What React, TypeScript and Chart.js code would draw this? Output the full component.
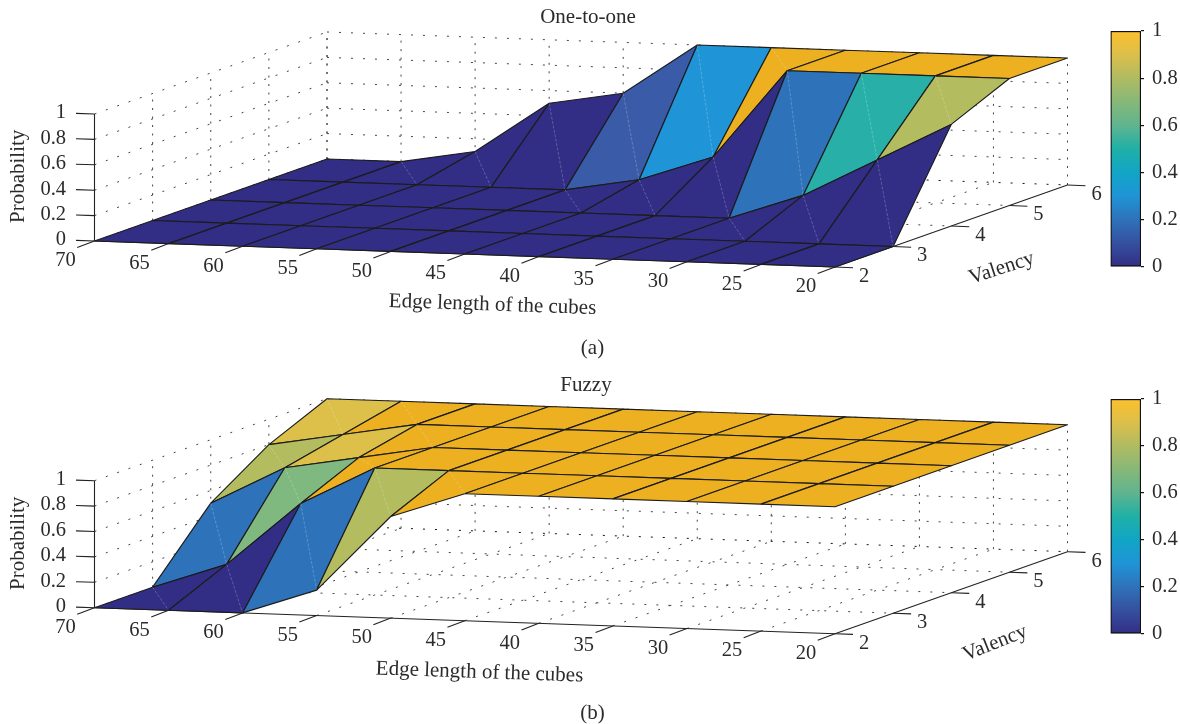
import React, { useEffect, useRef } from "react";
import { Chart, registerables } from "chart.js";

Chart.register(...registerables);

const edgeValues = [70, 65, 60, 55, 50, 45, 40, 35, 30, 25, 20];
const valencyValues = [2, 3, 4, 5, 6];
const probabilityTicks = [0, 0.2, 0.4, 0.6, 0.8, 1];

const oneToOneV2 = [0, 0, 0, 0, 0, 0, 0, 0, 0, 0, 0];
const oneToOneV3 = [0, 0, 0, 0, 0, 0, 0, 0, 0, 0, 0];
const oneToOneV4 = [0, 0, 0, 0, 0, 0, 0, 0, 0.2, 0.5, 0.8];
const oneToOneV5 = [0, 0, 0, 0, 0, 0.1, 0.3, 1, 1, 1, 1];
const oneToOneV6 = [0, 0, 0.1, 0.5, 0.6, 1, 1, 1, 1, 1, 1];

const fuzzyV2 = [0, 0, 0, 0.2, 0.8, 1, 1, 1, 1, 1, 1];
const fuzzyV3 = [0, 0.2, 0.7, 1, 1, 1, 1, 1, 1, 1, 1];
const fuzzyV4 = [0.5, 0.8, 0.9, 1, 1, 1, 1, 1, 1, 1, 1];
const fuzzyV5 = [0.8, 0.9, 1, 1, 1, 1, 1, 1, 1, 1, 1];
const fuzzyV6 = [1, 1, 1, 1, 1, 1, 1, 1, 1, 1, 1];

const faceColors = ["#322d85", "#3a5ba8", "#2e72b9", "#1f94d6", "#11a8c9", "#28b0a8", "#5fb48f", "#80b97f", "#b3bc5f", "#dcc049", "#ecb020"];
const barColors = ["#322d85", "#35509f", "#2e72b9", "#1f94d6", "#11a5c6", "#1fb0a6", "#5fb48f", "#86b878", "#b0bb62", "#dcbf4a", "#fcc02c"];

const FONT = '"Liberation Serif", serif';
const INK = "#2b2b2b";
const W = 1180;
const H = 362;

type Panel = {
  title: string;
  caption: string;
  rows: number[][];
  oy: number;
  titleX: number;
  titleY: number;
  captionY: number;
  edgeLabel: [number, number];
  probY: number;
  valency: [number, number, number];
};

const panels: Panel[] = [
  {
    title: "One-to-one", caption: "(a)",
    rows: [oneToOneV2, oneToOneV3, oneToOneV4, oneToOneV5, oneToOneV6],
    oy: 241, titleX: 588, titleY: 17, captionY: 348, edgeLabel: [492.5, 305], probY: 176.3, valency: [1001.7, 268.3, -18],
  },
  {
    title: "Fuzzy", caption: "(b)",
    rows: [fuzzyV2, fuzzyV3, fuzzyV4, fuzzyV5, fuzzyV6],
    oy: 245.7, titleX: 586, titleY: 23, captionY: 351, edgeLabel: [479.5, 310.5], probY: 181.3, valency: [995, 281.3, -22],
  },
];

const projector = (oy: number) => (edge: number, valency: number, p: number) => {
  const t = (70 - edge) / 50;
  const u = (valency - 2) / 4;
  return { x: 94.5 + t * 740.5 + u * 232.5, y: oy + t * 26 - u * 82 - p * 127 };
};

function buildDatasets(panel: Panel) {
  const P = projector(panel.oy);
  const back: any[] = [];
  const line = (data: any[], color: string, width: number, dash: number[] = []) =>
    back.push({ data, borderColor: color, borderWidth: width, borderDash: dash, fill: false, showLine: true, pointRadius: 0, clip: false, tension: 0 });
  const first = edgeValues[0];
  const last = edgeValues[edgeValues.length - 1];
  const vLast = valencyValues[valencyValues.length - 1];
  const grey = "#444444";
  const dots = [2, 10];

  probabilityTicks.slice(1).forEach((p) => {
    line([P(first, 2, p), P(first, vLast, p)], grey, 1, dots);
    line([P(first, vLast, p), P(last, vLast, p)], grey, 1, dots);
  });
  edgeValues.forEach((e) => {
    line([P(e, vLast, 0), P(e, vLast, 1)], grey, 1, [2, 6.5]);
    if (e !== last) line([P(e, 2, 0), P(e, vLast, 0)], grey, 1, dots);
  });
  valencyValues.forEach((v) => {
    if (v !== 2) {
      line([P(first, v, 0), P(first, v, 1)], grey, 1, [2, 6.5]);
      line([P(first, v, 0), P(last, v, 0)], v === vLast ? "#111111" : grey, 1, dots);
    }
  });

  const axis = "#222222";
  line([P(first, 2, 0), P(first, 2, 1)], axis, 1.1);
  line([P(first, 2, 0), P(last, 2, 0)], axis, 1.1);
  line([P(last, 2, 0), P(last, vLast, 0)], axis, 1.1);
  probabilityTicks.forEach((p) => {
    const a = P(first, 2, p);
    line([a, { x: a.x - 18.5, y: a.y - 0.6 }], axis, 1.1);
  });
  edgeValues.forEach((e) => {
    const a = P(e, 2, 0);
    line([a, { x: a.x - 17.3, y: a.y + 6.6 }], axis, 1.1);
  });
  valencyValues.forEach((v) => {
    const a = P(last, v, 0);
    line([a, { x: a.x + 18, y: a.y + 0.7 }], axis, 1.1);
  });

  for (let j = valencyValues.length - 2; j >= 0; j--) {
    for (let i = 0; i < edgeValues.length - 1; i++) {
      const lowL = panel.rows[j][i];
      const lowR = panel.rows[j][i + 1];
      const upL = panel.rows[j + 1][i];
      const upR = panel.rows[j + 1][i + 1];
      const e0 = edgeValues[i];
      const e1 = edgeValues[i + 1];
      const v0 = valencyValues[j];
      const v1 = valencyValues[j + 1];
      const a = P(e0, v0, lowL);
      const b = P(e1, v0, lowR);
      const c = P(e1, v1, upR);
      const d = P(e0, v1, upL);
      back.push({
        data: [a, b, c, d, a],
        backgroundColor: faceColors[Math.round(lowR * 10)],
        borderColor: "#1c1c1c",
        borderWidth: 1.15,
        borderJoinStyle: "round",
        fill: "shape",
        showLine: true,
        pointRadius: 0,
        clip: false,
        tension: 0,
      });
      if (Math.abs(lowL + upR - lowR - upL) > 1e-6) {
        line([d, b], "rgba(255,255,255,0.32)", 0.7, [3, 1.5]);
      }
    }
  }
  return back.reverse();
}

function textPlugin(panel: Panel) {
  return {
    id: "panelText",
    afterDraw(chart: any) {
      const ctx = chart.ctx;
      const P = projector(panel.oy);
      const px = (x: number) => chart.scales.x.getPixelForValue(x);
      const py = (y: number) => chart.scales.y.getPixelForValue(y);
      const put = (s: string, x: number, y: number, size: number, align: CanvasTextAlign = "center", rot = 0) => {
        ctx.save();
        ctx.translate(px(x), py(y));
        ctx.rotate((rot * Math.PI) / 180);
        ctx.textAlign = align;
        ctx.textBaseline = "middle";
        ctx.fillStyle = INK;
        ctx.font = `${size}px ${FONT}`;
        ctx.fillText(s, 0, 0);
        ctx.restore();
      };
      const last = edgeValues[edgeValues.length - 1];
      put(panel.title, panel.titleX, panel.titleY, 21);
      put(panel.caption, 592.5, panel.captionY, 21);
      edgeValues.forEach((e) => {
        const a = P(e, 2, 0);
        put(String(e), a.x - 29, a.y + 20, 20.5);
      });
      valencyValues.forEach((v) => {
        const a = P(last, v, 0);
        put(String(v), a.x + 29, a.y + 9.5, 20.5);
      });
      probabilityTicks.forEach((p) => {
        const a = P(edgeValues[0], 2, p);
        put(String(p), 66, a.y - 1, 20.5, "right");
      });
      put("Edge length of the cubes", panel.edgeLabel[0], panel.edgeLabel[1], 21, "center", 2);
      put("Probability", 18.7, panel.probY, 21, "center", -90);
      put("Valency", panel.valency[0], panel.valency[1], 21, "center", panel.valency[2]);
    },
  };
}

function Surface({ panel, top }: { panel: Panel; top: number }) {
  const ref = useRef<HTMLCanvasElement>(null);
  useEffect(() => {
    const chart = new Chart(ref.current as HTMLCanvasElement, {
      type: "scatter",
      data: { datasets: buildDatasets(panel) },
      options: {
        animation: false,
        responsive: false,
        devicePixelRatio: 1,
        layout: { padding: 0 },
        events: [],
        scales: {
          x: { type: "linear", min: 0, max: W, display: false },
          y: { type: "linear", min: 0, max: H, reverse: true, display: false },
        },
        plugins: { legend: { display: false }, tooltip: { enabled: false }, filler: { drawTime: "beforeDatasetDraw" } },
      },
      plugins: [textPlugin(panel)],
    } as any);
    return () => chart.destroy();
  }, [panel]);
  return <canvas ref={ref} width={W} height={H} style={{ position: "absolute", left: 0, top, width: W, height: H }} />;
}

function ColorBar({ top, height }: { top: number; height: number }) {
  const ref = useRef<HTMLCanvasElement>(null);
  useEffect(() => {
    const chart = new Chart(ref.current as HTMLCanvasElement, {
      type: "bar",
      data: {
        labels: ["Probability"],
        datasets: [
          {
            data: [[0, 1]],
            backgroundColor: (c: any) => {
              const area = c.chart.chartArea;
              if (!area) return barColors[0];
              const g = c.chart.ctx.createLinearGradient(0, area.bottom, 0, area.top);
              barColors.forEach((col, i) => g.addColorStop(i / (barColors.length - 1), col));
              return g;
            },
            borderColor: "#111111",
            borderWidth: 1.5,
            borderSkipped: false,
            barPercentage: 1,
            categoryPercentage: 1,
          },
        ],
      },
      options: {
        animation: false,
        responsive: false,
        devicePixelRatio: 1,
        events: [],
        layout: { padding: { top: 15, bottom: 15, left: 10.5, right: 0 } },
        scales: {
          x: { display: false },
          y: {
            position: "right",
            min: 0,
            max: 1,
            afterFit: (s: any) => { s.width = 39; s.paddingTop = 0; s.paddingBottom = 0; },
            border: { display: false },
            grid: { drawOnChartArea: false, drawTicks: true, tickLength: 3, color: "#111111", lineWidth: 1.2 },
            ticks: {
              stepSize: 0.2,
              padding: 8,
              color: INK,
              font: { family: FONT, size: 20.5 },
              callback: (v: any) => String(Math.round(v * 10) / 10),
            },
          },
        },
        plugins: { legend: { display: false }, tooltip: { enabled: false } },
      },
    } as any);
    return () => chart.destroy();
  }, []);
  return <canvas ref={ref} width={80} height={height + 30} style={{ position: "absolute", left: 1100, top: top - 15, width: 80, height: height + 30 }} />;
}

export default function App() {
  return (
    <div style={{ position: "fixed", left: 0, top: 0, width: W, height: 724, overflow: "hidden", background: "#fff" }}>
      <Surface panel={panels[0]} top={0} />
      <Surface panel={panels[1]} top={362} />
      <ColorBar top={31} height={236} />
      <ColorBar top={399} height={235} />
    </div>
  );
}
